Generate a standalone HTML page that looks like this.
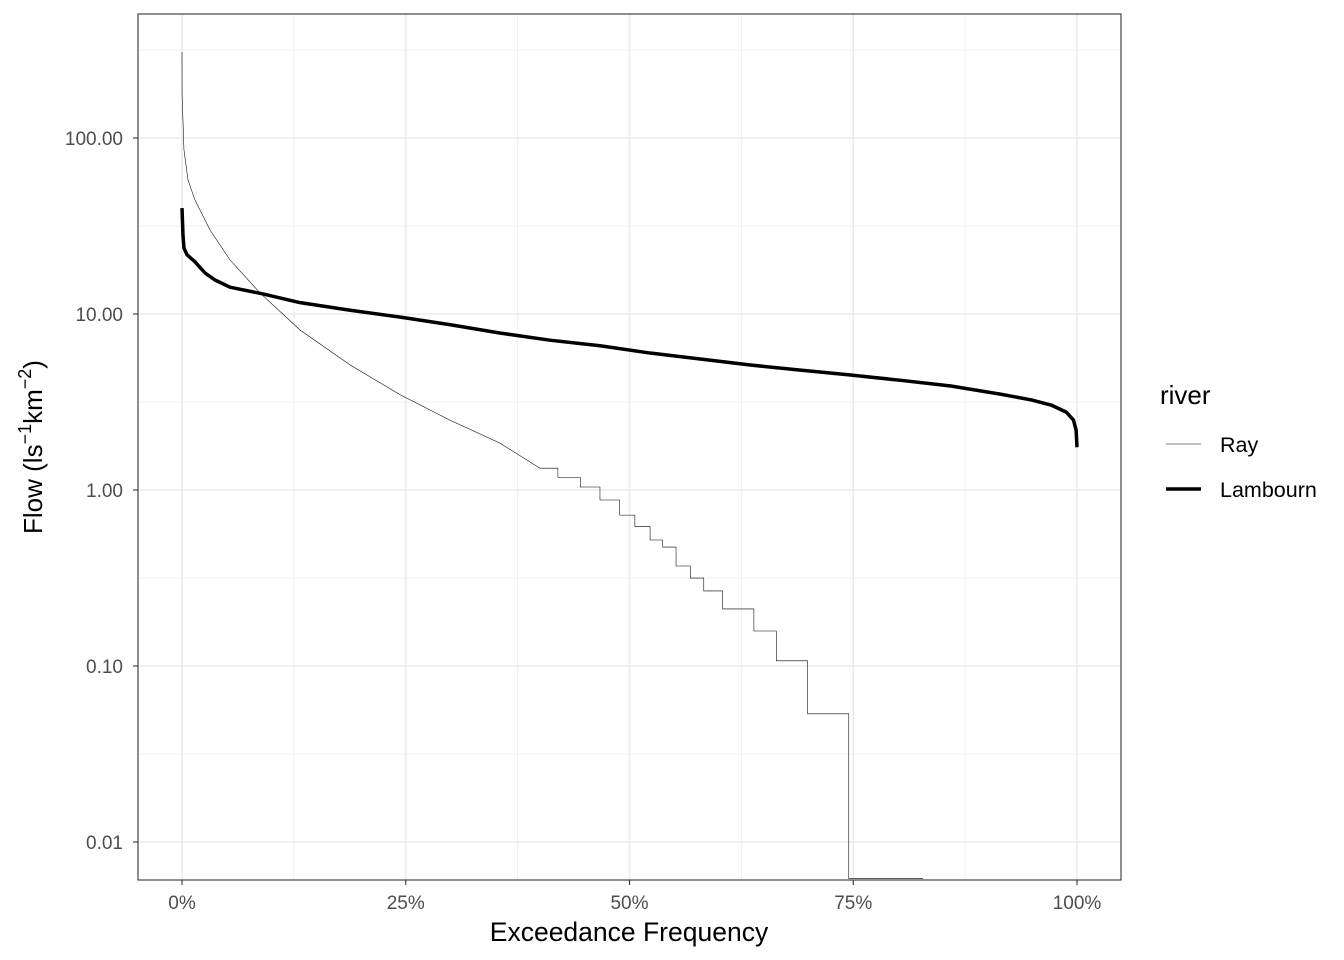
<!DOCTYPE html>
<html><head><meta charset="utf-8"><style>
body{margin:0;background:#fff}
svg{display:block;font-family:"Liberation Sans",sans-serif}
</style></head><body>
<svg id="chart" width="1344" height="960" viewBox="0 0 1344 960" xmlns="http://www.w3.org/2000/svg">
<defs><clipPath id="pc"><rect x="138" y="14" width="983" height="866"/></clipPath></defs>
<rect x="138" y="14" width="983" height="866" fill="#fff"/>
<g id="grid"></g>
<g id="series" clip-path="url(#pc)"></g>
<rect x="138" y="14" width="983" height="866" fill="none" stroke="#333" stroke-width="1.1"/>
<g id="axes"></g>
<text x="629" y="941" font-size="26.5" text-anchor="middle" fill="#000">Exceedance Frequency</text>
<text transform="translate(42,447) rotate(-90)" font-size="26" text-anchor="middle" fill="#000">Flow (ls<tspan dy="-11" font-size="18">−1</tspan><tspan dy="11">km</tspan><tspan dy="-11" font-size="18">−2</tspan><tspan dy="11">)</tspan></text>
<g>
<text x="1160" y="404" font-size="26" fill="#000">river</text>
<line x1="1166" y1="444" x2="1201" y2="444" stroke="#000" stroke-width="0.5"/>
<text x="1220" y="452" font-size="21.5" fill="#000">Ray</text>
<line x1="1166" y1="489" x2="1201" y2="489" stroke="#000" stroke-width="3.5"/>
<text x="1220" y="497" font-size="21.5" fill="#000">Lambourn</text>
</g>
</svg>
<script>
const xTicks=[0,25,50,75,100];
const xTickLabels=["0%","25%","50%","75%","100%"];
const yTicks=[0.01,0.1,1,10,100];
const yTickLabels=["0.01","0.10","1.00","10.00","100.00"];
// smooth part of Ray
const raySmoothPct=[0,0.01,0.22,0.67,1.45,3.13,5.36,8.7,13.2,18.8,24.4,29.9,35.5,40];
const raySmoothVal=[308,175,85.5,57.7,44.4,30,20.3,13.2,8.1,5.13,3.47,2.5,1.85,1.33];
// stepped part of Ray
const rayStepPct=[40,42,44.5,46.7,48.9,50.6,52.3,53.7,55.2,56.8,58.3,60.4,63.9,66.4,69.9,74.5,82.8];
const rayStepVal=[1.33,1.18,1.04,0.877,0.72,0.62,0.52,0.474,0.37,0.316,0.267,0.211,0.158,0.107,0.0535,0.0062,0.0062];
const lamPct=[0,0.11,0.22,0.56,1.45,2.57,3.69,5.36,9.05,13.2,18.8,24.4,29.9,35.5,41.1,46.7,52.3,57.9,63.5,69.1,74.7,80.3,85.9,91.5,94.9,97.1,98.8,99.6,99.9,100];
const lamVal=[40,28,23.7,21.7,19.8,17.1,15.6,14.2,13,11.6,10.5,9.6,8.7,7.8,7.1,6.6,6.0,5.55,5.13,4.8,4.5,4.2,3.9,3.5,3.25,3.04,2.77,2.5,2.19,1.75];
const NS="http://www.w3.org/2000/svg";
const xS=p=>182+p*8.95;
const yS=v=>490-176*Math.log10(v);
function mk(t,a,parent){const e=document.createElementNS(NS,t);for(const k in a)e.setAttribute(k,a[k]);parent.appendChild(e);return e;}
const grid=document.getElementById('grid'),axes=document.getElementById('axes'),ser=document.getElementById('series');
for(let i=0;i<xTicks.length-1;i++){const p=(xTicks[i]+xTicks[i+1])/2;
 const l=mk('line',{x1:xS(p),x2:xS(p),y1:14,y2:880,stroke:'#ebebeb','stroke-width':0.8},grid);
 
 }
for(let e=-3;e<=2;e++){const v=Math.pow(10,e+0.5);const y=yS(v);if(y<14||y>880)continue;
 const l=mk('line',{x1:138,x2:1121,y1:y,y2:y,stroke:'#ebebeb','stroke-width':0.8},grid);
 
 }
xTicks.forEach((p,i)=>{const x=xS(p);
 const l=mk('line',{x1:x,x2:x,y1:14,y2:880,stroke:'#ebebeb','stroke-width':1.6},grid);
 
 
 const t=mk('line',{x1:x,x2:x,y1:880,y2:885,stroke:'#333','stroke-width':1.1},axes);
 
 
 const tx=mk('text',{x:x,y:909,'font-size':19,'text-anchor':'middle',fill:'#4d4d4d'},axes);tx.textContent=xTickLabels[i];
 
 });
yTicks.forEach((v,i)=>{const y=yS(v);
 const l=mk('line',{x1:138,x2:1121,y1:y,y2:y,stroke:'#ebebeb','stroke-width':1.6},grid);
 
 
 const t=mk('line',{x1:133,x2:138,y1:y,y2:y,stroke:'#333','stroke-width':1.1},axes);
 
 
 const tx=mk('text',{x:123,y:y+7,'font-size':19,'text-anchor':'end',fill:'#4d4d4d'},axes);tx.textContent=yTickLabels[i];
 
 });
let d=raySmoothPct.map((p,i)=>(i?'L':'M')+xS(p)+','+yS(raySmoothVal[i])).join(' ');
for(let i=1;i<rayStepPct.length;i++){d+=' L'+xS(rayStepPct[i])+','+yS(rayStepVal[i-1])+' L'+xS(rayStepPct[i])+','+yS(rayStepVal[i]);}
const ray=mk('path',{d:d,fill:'none',stroke:'#000','stroke-width':0.55},ser);


let d2=lamPct.map((p,i)=>(i?'L':'M')+xS(p)+','+yS(lamVal[i])).join(' ');
const lam=mk('path',{d:d2,fill:'none',stroke:'#000','stroke-width':3.5,'stroke-linejoin':'round'},ser);


</script>
</body></html>
